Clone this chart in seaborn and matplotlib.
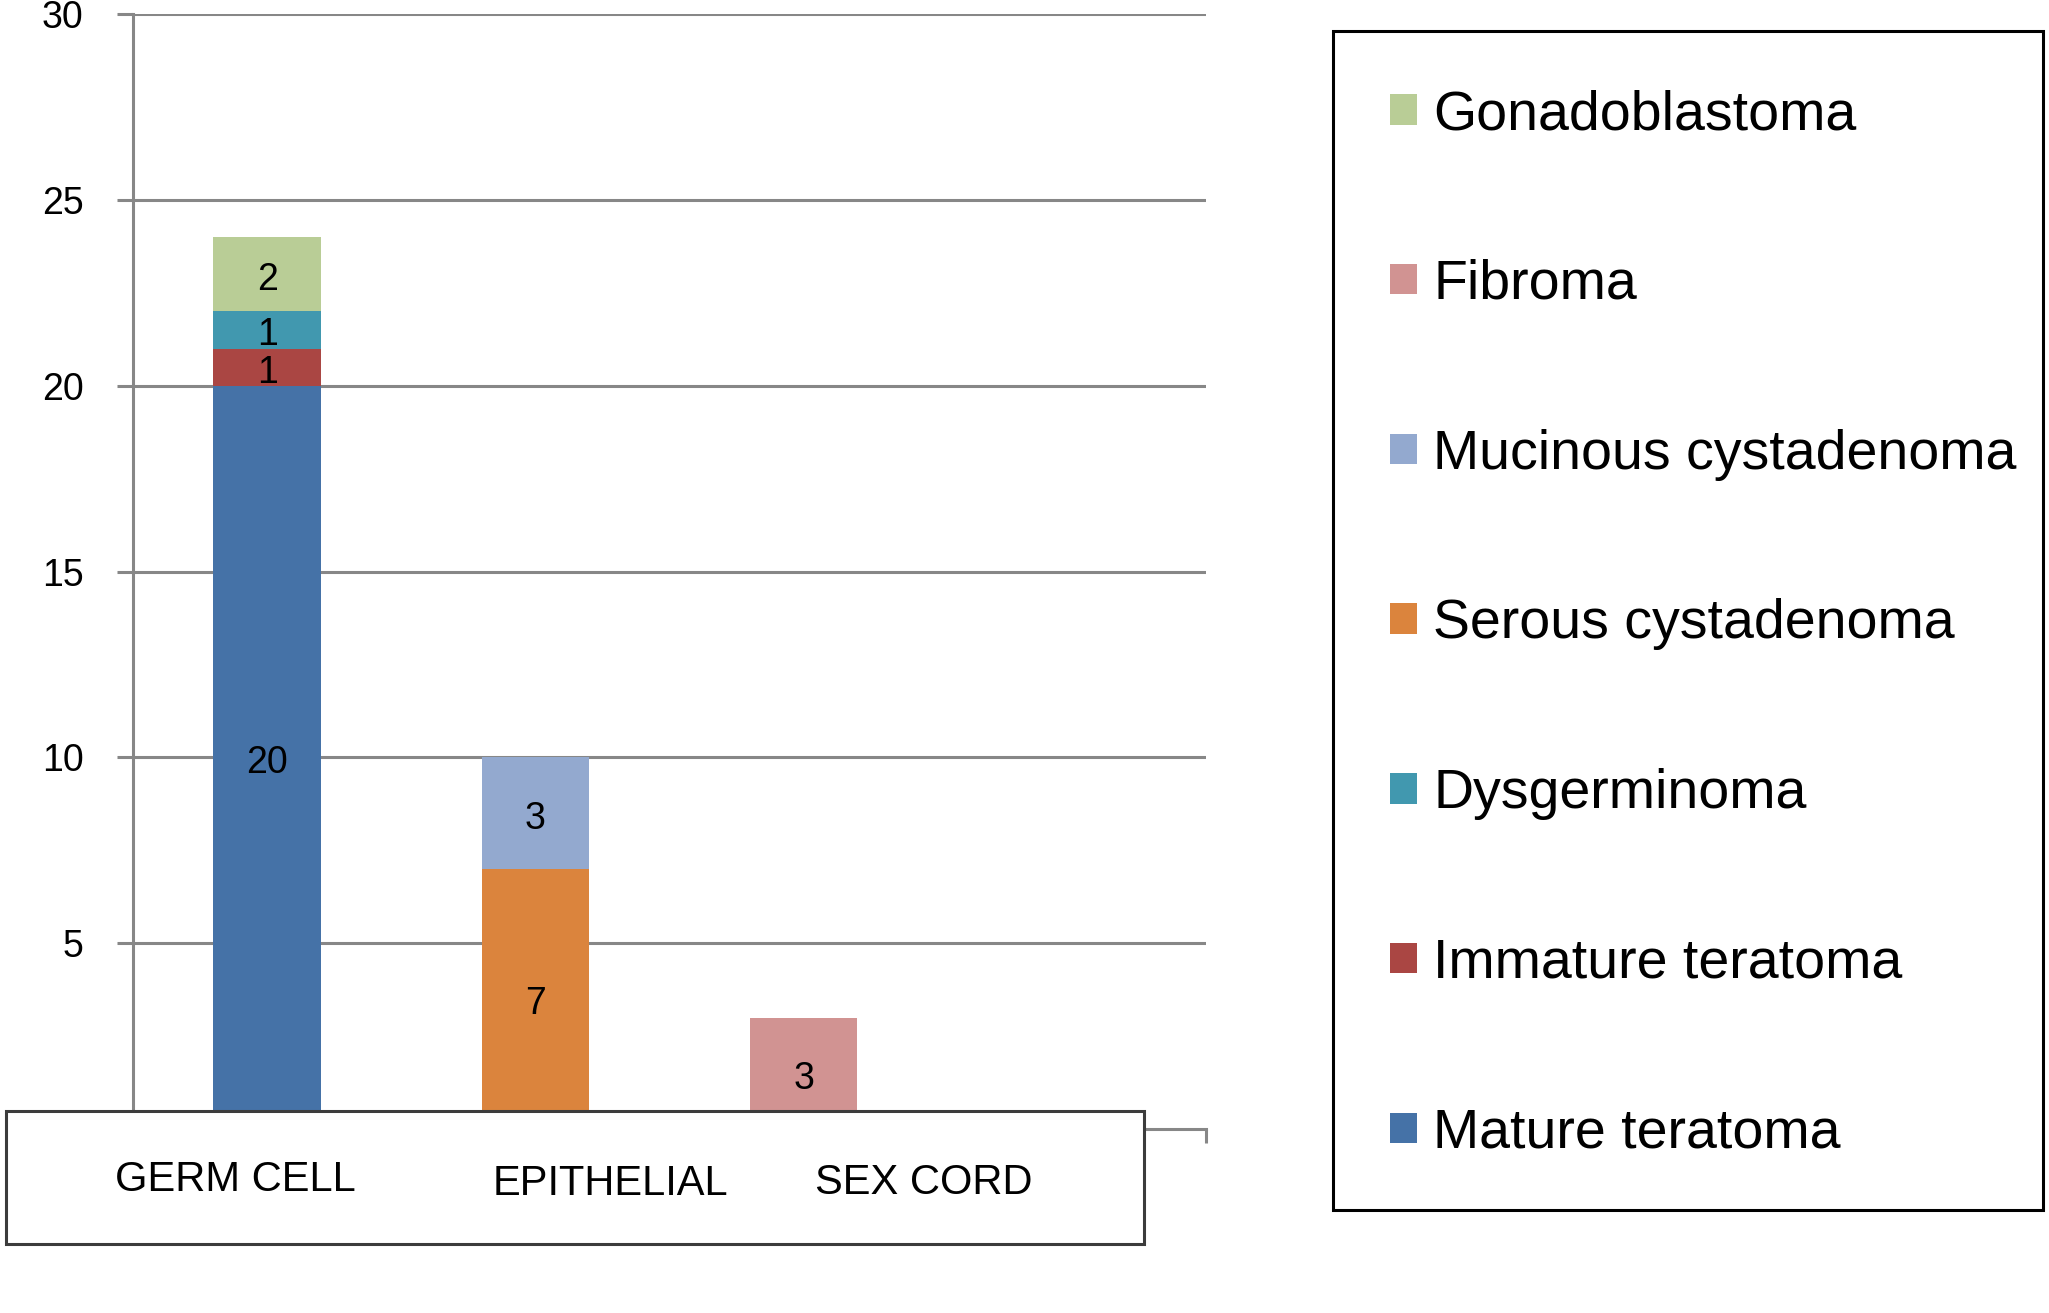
import matplotlib
matplotlib.use("Agg")
import matplotlib.pyplot as plt
from matplotlib.patches import Rectangle, Patch
import seaborn as sns
import pandas as pd
import numpy as np

# ---- data ----
categories = ["GERM CELL", "EPITHELIAL", "SEX CORD"]
series_names = ["Mature teratoma", "Immature teratoma", "Dysgerminoma",
                "Serous cystadenoma", "Mucinous cystadenoma", "Fibroma",
                "Gonadoblastoma"]
mature_teratoma = [20, 0, 0]
immature_teratoma = [1, 0, 0]
dysgerminoma = [1, 0, 0]
serous_cystadenoma = [0, 7, 0]
mucinous_cystadenoma = [0, 3, 0]
fibroma = [0, 0, 3]
gonadoblastoma = [2, 0, 0]
y_ticks = [5, 10, 15, 20, 25, 30]

series_values = [mature_teratoma, immature_teratoma, dysgerminoma,
                 serous_cystadenoma, mucinous_cystadenoma, fibroma,
                 gonadoblastoma]
colors = ["#4572A7", "#AA4643", "#4198AF", "#DB843D", "#93A9CF",
          "#D19392", "#B9CD96"]

# ---- style ----
sns.set_theme(style="white")
plt.rcParams["font.family"] = ["Liberation Sans", "DejaVu Sans"]
plt.rcParams["text.color"] = "black"
plt.rcParams["axes.labelcolor"] = "black"
plt.rcParams["xtick.color"] = "black"
plt.rcParams["ytick.color"] = "black"

W, H = 2049, 1313
fig = plt.figure(figsize=(W / 100, H / 100), dpi=100)
fig.patch.set_facecolor("white")

def fx(px):
    return px / W

def fy(py):
    return 1 - py / H

ax_left, ax_right, ax_top, ax_bottom = 133, 1206, 14, 1129
ax = fig.add_axes([fx(ax_left), fy(ax_bottom), fx(ax_right - ax_left),
                   (ax_bottom - ax_top) / H])
ax.set_facecolor("white")

grid_col = "#878787"
bottoms = np.zeros(len(categories))
for name, vals, col in zip(series_names, series_values, colors):
    df = pd.DataFrame({"cat": categories, "val": vals})
    sns.barplot(data=df, x="cat", y="val", order=categories, color=col,
                width=0.4, bottom=bottoms.copy(), ax=ax, linewidth=0,
                saturation=1, errorbar=None, zorder=3)
    for i, v in enumerate(vals):
        if v > 0:
            ax.annotate(str(v), (i, bottoms[i] + v / 2), xytext=(0, -4),
                        textcoords="offset points", ha="center",
                        va="center", fontsize=27, color="black", zorder=4)
    bottoms = bottoms + np.array(vals)

ax.set_xlim(-0.5, 3.5)
ax.set_ylim(0, 30)
ax.set_yticks(y_ticks)
ax.set_yticklabels([str(t) for t in y_ticks], fontsize=27)
ax.set_xticks([-0.5, 0.5, 1.5, 2.5, 3.5])
ax.set_xticklabels([])
ax.set_xlabel("")
ax.set_ylabel("")
ax.yaxis.grid(True, color=grid_col, linewidth=2.2)
ax.xaxis.grid(False)
ax.set_axisbelow(True)
for s in ["top", "right"]:
    ax.spines[s].set_visible(False)
for s in ["left", "bottom"]:
    ax.spines[s].set_color(grid_col)
    ax.spines[s].set_linewidth(2.2)
ax.tick_params(axis="y", direction="out", length=11.5, width=2.2,
               color=grid_col, pad=24, left=True, labelcolor="black")
ax.tick_params(axis="x", direction="out", length=10, width=2.2,
               color=grid_col, bottom=True)

# ---- category box ----
box = Rectangle((fx(6), fy(1244)), fx(1144 - 6), (1244 - 1111) / H,
                transform=fig.transFigure, facecolor="white",
                edgecolor="#3c3c3c", linewidth=2.2, zorder=5)
fig.add_artist(box)
label_pos = [(235, 1180), (610, 1184), (924, 1183)]
for cat, (px, py) in zip(categories, label_pos):
    fig.text(fx(px), fy(py), cat, ha="center", va="center", fontsize=30,
             color="black", zorder=6)

# ---- legend box ----
lbox = Rectangle((fx(1333), fy(1210)), fx(2043 - 1333), (1210 - 31) / H,
                 transform=fig.transFigure, facecolor="white",
                 edgecolor="black", linewidth=2.2, zorder=5)
fig.add_artist(lbox)
handles = [Patch(facecolor=c, edgecolor="none") for c in colors][::-1]
labels = series_names[::-1]
leg = fig.legend(handles, labels, loc="upper left",
                 bbox_to_anchor=(fx(1390), fy(89)), frameon=False,
                 fontsize=40, handlelength=0.49, handleheight=0.47,
                 handletextpad=0.29, labelspacing=2.12, borderpad=0,
                 borderaxespad=0)
for t in leg.get_texts():
    t.set_color("black")
leg.set_zorder(6)

fig.savefig("out.png", dpi=100)
